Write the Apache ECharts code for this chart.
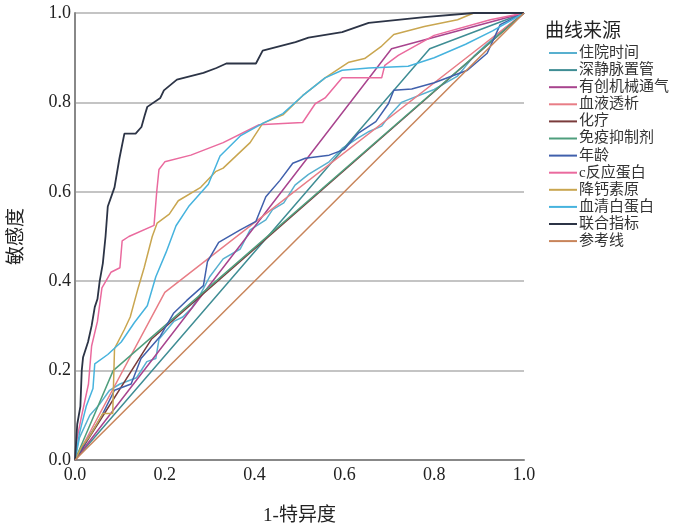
<!DOCTYPE html>
<html>
<head>
<meta charset="utf-8">
<script src="https://cdn.jsdelivr.net/npm/echarts@6/dist/echarts.min.js"></script>
<style>
html,body{margin:0;padding:0;background:#fff;}
#container{width:676px;height:531px;}
</style>
</head>
<body>
<div id="container"></div>
<script>
// 曲线名称
var seriesNames = ['住院时间','深静脉置管','有创机械通气','血液透析','化疗','免疫抑制剂','年龄','c反应蛋白','降钙素原','血清白蛋白','联合指标','参考线'];
var seriesColors = ['#58b0cf','#3f8d94','#a8448e','#e87d86','#7a3b3b','#4f9e7d','#4060ac','#ea6a9e','#c9a650','#46b3de','#2c3446','#c8845a'];
var xTicks = [0, 0.2, 0.4, 0.6, 0.8, 1.0];

// 每条曲线 [1-特异度, 敏感度]
var zyTime = [[0,0],[0.01,0.05],[0.033,0.1],[0.055,0.125],[0.077,0.156],[0.1,0.17],[0.137,0.184],[0.16,0.22],[0.18,0.227],[0.187,0.27],[0.22,0.31],[0.24,0.32],[0.26,0.34],[0.28,0.372],[0.3,0.41],[0.33,0.45],[0.368,0.472],[0.39,0.515],[0.425,0.537],[0.44,0.56],[0.465,0.575],[0.49,0.615],[0.52,0.639],[0.566,0.667],[0.595,0.697],[0.63,0.72],[0.655,0.735],[0.683,0.747],[0.7,0.77],[0.727,0.8],[0.8,0.829],[0.852,0.859],[0.888,0.903],[0.91,0.924],[0.95,0.96],[1,1]];
var sjmzg = [[0,0],[0.79,0.92],[1,1]];
var ycjx = [[0,0],[0.705,0.92],[1,1]];
var xytx = [[0,0],[0.2,0.375],[1,1]];
var hl = [[0,0],[0.17,0.27],[1,1]];
var myyzj = [[0,0],[0.085,0.2],[1,1]];
var age = [[0,0],[0.03,0.05],[0.06,0.1],[0.088,0.156],[0.125,0.17],[0.147,0.227],[0.19,0.277],[0.22,0.329],[0.249,0.357],[0.286,0.39],[0.295,0.444],[0.32,0.487],[0.368,0.515],[0.403,0.534],[0.425,0.589],[0.456,0.625],[0.485,0.664],[0.513,0.675],[0.566,0.682],[0.6,0.695],[0.632,0.732],[0.67,0.757],[0.698,0.797],[0.71,0.827],[0.75,0.83],[0.8,0.844],[0.874,0.872],[0.918,0.91],[0.947,0.974],[1,1]];
var crp = [[0,0],[0.005,0.05],[0.015,0.1],[0.03,0.17],[0.037,0.255],[0.05,0.31],[0.06,0.385],[0.08,0.42],[0.1,0.43],[0.105,0.49],[0.12,0.5],[0.176,0.525],[0.182,0.6],[0.187,0.65],[0.2,0.667],[0.258,0.682],[0.33,0.71],[0.41,0.75],[0.463,0.753],[0.507,0.755],[0.535,0.797],[0.557,0.81],[0.595,0.855],[0.683,0.855],[0.69,0.883],[0.72,0.905],[0.8,0.95],[0.925,0.985],[1,1]];
var pct = [[0,0],[0.015,0.03],[0.033,0.054],[0.062,0.104],[0.084,0.104],[0.088,0.249],[0.11,0.292],[0.123,0.32],[0.139,0.379],[0.154,0.43],[0.172,0.5],[0.183,0.53],[0.21,0.55],[0.23,0.58],[0.28,0.61],[0.313,0.645],[0.33,0.653],[0.39,0.71],[0.418,0.753],[0.463,0.772],[0.507,0.815],[0.557,0.855],[0.61,0.89],[0.645,0.898],[0.683,0.926],[0.71,0.952],[0.778,0.97],[0.852,0.985],[0.888,1],[1,1]];
var alb = [[0,0],[0.01,0.06],[0.025,0.12],[0.04,0.16],[0.044,0.215],[0.073,0.236],[0.103,0.264],[0.132,0.307],[0.161,0.345],[0.18,0.41],[0.203,0.465],[0.225,0.524],[0.253,0.567],[0.297,0.617],[0.323,0.68],[0.368,0.725],[0.418,0.753],[0.463,0.775],[0.507,0.815],[0.557,0.855],[0.595,0.872],[0.654,0.877],[0.742,0.881],[0.8,0.9],[0.87,0.93],[0.93,0.96],[1,1]];
var combo = [[0,0],[0.005,0.08],[0.012,0.12],[0.015,0.2],[0.018,0.23],[0.029,0.264],[0.037,0.3],[0.044,0.342],[0.05,0.36],[0.055,0.4],[0.062,0.44],[0.068,0.5],[0.073,0.567],[0.088,0.61],[0.099,0.675],[0.11,0.73],[0.135,0.73],[0.148,0.745],[0.155,0.77],[0.161,0.79],[0.19,0.81],[0.198,0.827],[0.227,0.851],[0.286,0.866],[0.315,0.877],[0.337,0.887],[0.403,0.887],[0.418,0.916],[0.491,0.935],[0.52,0.945],[0.595,0.957],[0.654,0.978],[0.778,0.991],[0.888,1],[1,1]];
var refLine = [[0,0],[1,1]];

var allData = [zyTime, sjmzg, ycjx, xytx, hl, myyzj, age, crp, pct, alb, combo, refLine];

var dom = document.getElementById("container");
var myChart = echarts.init(dom);

var series = [];
for (var i = 0; i < seriesNames.length; i++) {
    series.push({
        name: seriesNames[i],
        type: 'line',
        data: allData[i],
        showSymbol: false,
        animation: false,
        lineStyle: {
            color: seriesColors[i],
            width: i == 10 ? 1.8 : 1.5
        },
        itemStyle: {color: seriesColors[i]}
    });
}

var labelFont = {fontFamily: 'Liberation Serif', fontSize: 18, color: '#222'};

var option = {
    backgroundColor: '#fff',
    animation: false,
    color: seriesColors,
    grid: {left: 70, right: 152, top: 13, bottom: 56},
    title: {
        text: '曲线来源',
        left: 540,
        top: 15,
        textStyle: {fontFamily: 'Noto Sans CJK SC', fontSize: 19, fontWeight: 'normal', color: '#222'}
    },
    legend: {
        orient: 'vertical',
        left: 544,
        top: 40,
        icon: 'rect',
        itemWidth: 28,
        itemHeight: 2,
        itemGap: 1.1,
        textStyle: {fontFamily: 'Liberation Serif, Noto Sans CJK SC', fontSize: 15, lineHeight: 16, color: '#333', padding: [0, 0, 0, -3]},
        data: seriesNames
    },
    xAxis: {
        type: 'value',
        min: 0,
        max: 1,
        interval: 0.2,
        name: '1-特异度',
        nameLocation: 'middle',
        nameGap: 47,
        nameTextStyle: {fontFamily: 'Liberation Serif, Noto Sans CJK SC', fontSize: 19, color: '#222'},
        axisLine: {lineStyle: {color: '#888', width: 2}},
        axisTick: {show: false},
        splitLine: {show: false},
        axisLabel: {
            margin: 6,
            textStyle: labelFont,
            formatter: function (v) { return v.toFixed(1); }
        }
    },
    yAxis: {
        type: 'value',
        min: 0,
        max: 1,
        interval: 0.2,
        name: '敏感度',
        nameLocation: 'middle',
        nameGap: 48,
        nameTextStyle: {fontFamily: 'Liberation Serif, Noto Sans CJK SC', fontSize: 19, color: '#222'},
        axisLine: {show: true, lineStyle: {color: '#888', width: 2}},
        axisTick: {show: false},
        splitLine: {lineStyle: {color: '#c4c4c4', width: 2}},
        axisLabel: {
            margin: 4,
            textStyle: labelFont,
            formatter: function (v) { return v.toFixed(1); }
        }
    },
    series: series
};

if (option && typeof option === "object") {
    myChart.setOption(option, true);
}
</script>
</body>
</html>
